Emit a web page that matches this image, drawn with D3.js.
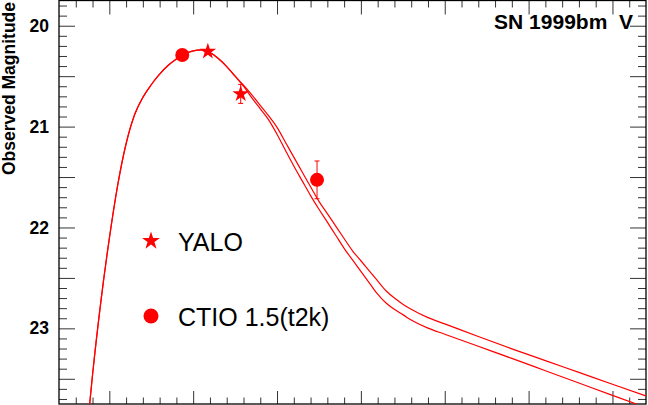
<!DOCTYPE html>
<html><head><meta charset="utf-8">
<script src="https://cdn.jsdelivr.net/npm/d3@7/dist/d3.min.js"></script>
<style>
html,body{margin:0;padding:0;background:#fff;}
svg{display:block;font-family:"Liberation Sans",Arial,Helvetica,sans-serif;}
text{white-space:pre;}
</style></head>
<body>
<svg id="c" width="648" height="405"></svg>
<script>
// ---- data ----
const modelDays = [-2.5,-2,-1,0,1,2,3,4,5,6,7,8,9,10,11,12,13,14,15,16,17,18,19,20,21,22,23,24,25,26,27,28,29,30,31,32,33,34,35,36,38,40,44,48,52,56,60,64];
const modelLow  = [23.88,23.46,22.73,22.11,21.58,21.17,20.885,20.71,20.585,20.48,20.395,20.33,20.28,20.25,20.24,20.265,20.325,20.405,20.50,20.60,20.715,20.824,20.933,21.076,21.235,21.391,21.538,21.684,21.819,21.947,22.077,22.207,22.322,22.436,22.549,22.661,22.749,22.811,22.864,22.918,22.998,23.058,23.178,23.298,23.420,23.542,23.664,23.785];
const modelHigh = [23.88,23.46,22.73,22.11,21.58,21.17,20.885,20.71,20.585,20.48,20.395,20.33,20.28,20.25,20.24,20.265,20.325,20.405,20.50,20.59,20.686,20.790,20.894,21.008,21.155,21.303,21.450,21.597,21.741,21.862,21.986,22.109,22.231,22.330,22.430,22.530,22.627,22.700,22.760,22.811,22.894,22.956,23.081,23.203,23.320,23.437,23.554,23.670];
const yaloDays = [11.75, 15.67];
const yaloMags = [20.255, 20.676];
const yaloErrs = [0.0, 0.094];
const ctioDays = [8.70, 24.77];
const ctioMags = [20.29, 21.528];
const ctioErrs = [0.0, 0.187];
const yMajorTicks = [20, 20.5, 21, 21.5, 22, 22.5, 23, 23.5];
const yLabelTicks = [20, 21, 22, 23];
const legendLabels = ["YALO", "CTIO 1.5(t2k)"];
const titleText = "SN 1999bm\u00a0\u00a0V";
const yTitle = "Observed Magnitude";

// ---- layout ----
const L = 59, R = 646, T = 0.5, B = 404;
const svg = d3.select("#c");
const x = d3.scaleLinear().domain([-6, 64]).range([L, R]);
const y = d3.scaleLinear().domain([19.75, 23.75]).range([T, B]);
const red = "#ff0000";

svg.append("defs").append("clipPath").attr("id","clip")
  .append("rect").attr("x",L).attr("y",T).attr("width",R-L).attr("height",B-T);

const yMinor = d3.range(19.8, 23.75, 0.1).map(v=>+v.toFixed(2)).filter(v=>!yMajorTicks.some(m=>Math.abs(m-v)<1e-6));
const xMajor = d3.range(0, 61, 10);
const xMinor = d3.range(-4, 64, 2).filter(v=>v%10!==0);

function styleAxis(g){ g.select(".domain").remove(); g.selectAll("line").attr("stroke","#333").attr("stroke-width",1); }

// left axis
svg.append("g").attr("transform",`translate(${L},0)`)
  .call(d3.axisLeft(y).tickValues(yMajorTicks).tickSize(-16).tickPadding(10)
    .tickFormat(d=> yLabelTicks.includes(d) ? d3.format("d")(d) : ""))
  .call(styleAxis)
  .call(g=>g.selectAll("text").attr("font-size",17.5).attr("font-weight","bold").attr("fill","#000")
        .attr("font-family","Liberation Sans, Arial, sans-serif"));
svg.append("g").attr("transform",`translate(${L},0)`)
  .call(d3.axisLeft(y).tickValues(yMinor).tickSize(-8).tickFormat(""))
  .call(styleAxis);
// right axis
svg.append("g").attr("transform",`translate(${R},0)`)
  .call(d3.axisRight(y).tickValues(yMajorTicks).tickSize(-16).tickFormat(""))
  .call(styleAxis);
svg.append("g").attr("transform",`translate(${R},0)`)
  .call(d3.axisRight(y).tickValues(yMinor).tickSize(-8).tickFormat(""))
  .call(styleAxis);
// bottom axis
svg.append("g").attr("transform",`translate(0,${B})`)
  .call(d3.axisBottom(x).tickValues(xMajor).tickSize(-13).tickFormat(""))
  .call(styleAxis);
svg.append("g").attr("transform",`translate(0,${B})`)
  .call(d3.axisBottom(x).tickValues(xMinor).tickSize(-6.5).tickFormat(""))
  .call(styleAxis);
// top axis
svg.append("g").attr("transform",`translate(0,${T})`)
  .call(d3.axisTop(x).tickValues(xMajor).tickSize(-14).tickFormat(""))
  .call(styleAxis);
svg.append("g").attr("transform",`translate(0,${T})`)
  .call(d3.axisTop(x).tickValues(xMinor).tickSize(-7).tickFormat(""))
  .call(styleAxis);

// frame
svg.append("rect").attr("x",L).attr("y",T).attr("width",R-L).attr("height",B-T)
  .attr("fill","none").attr("stroke","#000").attr("stroke-width",1.3);

// model curves
const line = d3.line().x(d=>x(d[0])).y(d=>y(d[1])).curve(d3.curveMonotoneX);
const gC = svg.append("g").attr("clip-path","url(#clip)");
[modelLow, modelHigh].forEach(arr=>{
  gC.append("path").datum(modelDays.map((d,i)=>[d,arr[i]]))
    .attr("d",line).attr("fill","none").attr("stroke",red).attr("stroke-width",1.2);
});

// error bars
function errBars(days, mags, errs){
  days.forEach((d,i)=>{
    if(errs[i]<=0) return;
    const cx = x(d), y1 = y(mags[i]-errs[i]), y2 = y(mags[i]+errs[i]);
    gC.append("line").attr("x1",cx).attr("x2",cx).attr("y1",y1).attr("y2",y2).attr("stroke",red).attr("stroke-width",1);
    [y1,y2].forEach(yy=>gC.append("line").attr("x1",cx-2.5).attr("x2",cx+2.5).attr("y1",yy).attr("y2",yy).attr("stroke",red).attr("stroke-width",1));
  });
}
errBars(yaloDays, yaloMags, yaloErrs);
errBars(ctioDays, ctioMags, ctioErrs);

const star = d3.symbol().type(d3.symbolStar).size(85);
const starLeg = d3.symbol().type(d3.symbolStar).size(100);
gC.selectAll(".yalo").data(yaloDays).enter().append("path")
  .attr("d",star).attr("transform",(d,i)=>`translate(${x(d)},${y(yaloMags[i])})`).attr("fill",red);
gC.selectAll(".ctio").data(ctioDays).enter().append("circle")
  .attr("cx",d=>x(d)).attr("cy",(d,i)=>y(ctioMags[i])).attr("r",7).attr("fill",red);

// legend
svg.append("path").attr("d",starLeg).attr("transform","translate(151,241)").attr("fill",red);
svg.append("circle").attr("cx",151).attr("cy",316).attr("r",7.5).attr("fill",red);
svg.append("text").attr("x",178).attr("y",251).attr("font-size",25).attr("fill","#000").text(legendLabels[0]);
svg.append("text").attr("x",178).attr("y",326).attr("font-size",25).attr("fill","#000").text(legendLabels[1]);

// title
svg.append("text").attr("x",633).attr("y",28.5).attr("text-anchor","end")
  .attr("font-size",21).attr("font-weight","bold").attr("fill","#000").text(titleText);

// y title
svg.append("text").attr("transform","translate(14.5,2) rotate(-90)").attr("text-anchor","end")
  .attr("font-size",17.5).attr("font-weight","bold").attr("fill","#000").text(yTitle);
</script>
</body></html>
